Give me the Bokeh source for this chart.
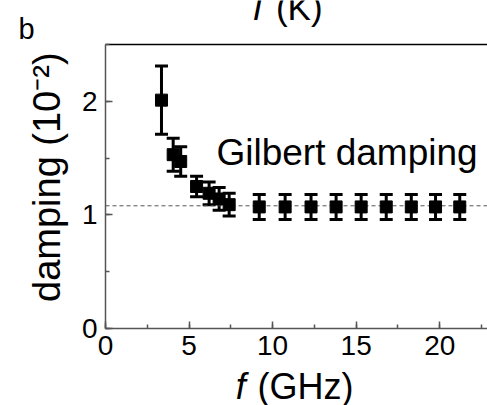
import numpy as np
from bokeh.plotting import figure
from bokeh.models import (ColumnDataSource, Whisker, TeeHead, Label, LinearAxis,
                          SingleIntervalTicker, FixedTicker, Range1d)
from bokeh.embed import file_html
from bokeh.resources import INLINE

# ---- data ----
freq = [3.35, 4.05, 4.5, 5.45, 6.2, 6.8, 7.4,
        9.2, 10.75, 12.3, 13.8, 15.3, 16.8, 18.3, 19.75, 21.2]
damping = [2.01, 1.53, 1.47, 1.25, 1.19, 1.14, 1.09,
           1.07, 1.07, 1.07, 1.07, 1.07, 1.07, 1.07, 1.07, 1.07]
err = [0.30, 0.145, 0.13, 0.09, 0.10, 0.10, 0.10,
       0.11, 0.11, 0.11, 0.11, 0.11, 0.11, 0.11, 0.11, 0.11]
gilbert = 1.08
x_min, x_max = 0, 22.86
y_min, y_max = 0, 2.5

FONT = "Liberation Sans"

lower = [d - e for d, e in zip(damping, err)]
upper = [d + e for d, e in zip(damping, err)]
src = ColumnDataSource(dict(f=freq, d=damping, lo=lower, hi=upper))

# the frame covers the whole canvas; axes are placed at fixed data locations
p = figure(width=487, height=405, output_backend="svg", toolbar_location=None,
           x_range=Range1d(-6.284, x_max), y_range=Range1d(-0.678, 2.887),
           x_axis_type=None, y_axis_type=None, min_border=0)
p.outline_line_color = None
p.grid.visible = False
p.background_fill_color = "white"
p.border_fill_color = "white"

def style_axis(ax):
    ax.axis_line_color = "#555555"
    ax.axis_line_width = 1.5
    ax.major_tick_line_color = "#555555"
    ax.minor_tick_line_color = "#555555"
    ax.major_tick_line_width = 1.5
    ax.minor_tick_line_width = 1.5
    ax.major_tick_in = 7
    ax.major_tick_out = 0
    ax.minor_tick_in = 4
    ax.minor_tick_out = 0
    ax.major_label_text_font = FONT
    ax.major_label_text_font_size = "28px"
    ax.major_label_text_color = "black"
    ax.major_label_standoff = 8

xax = LinearAxis(fixed_location=y_min, bounds=(x_min, x_max),
                 ticker=SingleIntervalTicker(interval=5, num_minor_ticks=2))
yax = LinearAxis(fixed_location=x_min, bounds=(y_min, y_max),
                 ticker=SingleIntervalTicker(interval=1, num_minor_ticks=2))
style_axis(xax)
style_axis(yax)
p.add_layout(xax, "below")
p.add_layout(yax, "left")

# top frame border (an axis with no ticks)
top = LinearAxis(fixed_location=y_max, bounds=(x_min, x_max),
                 ticker=FixedTicker(ticks=[]),
                 axis_line_color="black", axis_line_width=1.5,
                 major_tick_line_color=None, minor_tick_line_color=None)
p.add_layout(top, "above")

# Gilbert damping reference line
p.ray(x=[x_min], y=[gilbert], length=0, angle=0, line_color="#555555",
      line_width=1, line_dash="4 3")

# error bars
p.add_layout(Whisker(source=src, base="f", lower="lo", upper="hi",
                     line_color="black", line_width=3,
                     upper_head=TeeHead(size=13, line_width=3, line_color="black"),
                     lower_head=TeeHead(size=13, line_width=3, line_color="black")))
p.scatter("f", "d", source=src, marker="square", size=12,
          fill_color="black", line_color="black")

def lab(x, y, text, size, style="normal", angle=0.0):
    p.add_layout(Label(x=x, y=y, text=text, text_font=FONT, text_font_size=size,
                       text_font_style=style, text_color="black", angle=angle,
                       text_align="left", text_baseline="alphabetic"))

# annotation
lab(6.64, 1.553, "Gilbert damping", "37px")
# panel letter
lab(-5.21, 2.64, "b", "29px")
# top axis title (cut off)
lab(8.45, 2.823, "T", "35px", "italic")
lab(10.2, 2.823, "(K)", "35px")
# x label
lab(7.8, -0.512, "f", "36px", "italic")
lab(9.1, -0.512, "(GHz)", "36px")
# y label rotated
lab(-3.48, 0.233, "damping (10\u207b\u00b2)", "38px", angle=np.pi / 2)

open("out.html", "w").write(file_html(p, INLINE))
